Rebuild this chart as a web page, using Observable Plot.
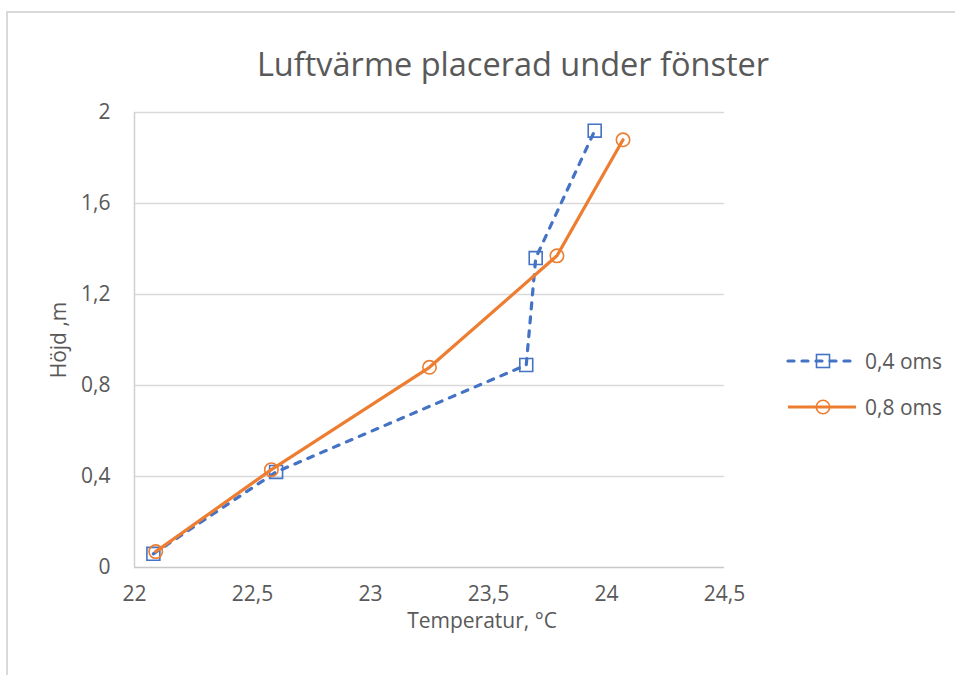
<!DOCTYPE html>
<html>
<head>
<meta charset="utf-8">
<script src="https://cdn.jsdelivr.net/npm/d3@7"></script>
<script src="https://cdn.jsdelivr.net/npm/@observablehq/plot@0.6"></script>
<style>
  html, body { margin: 0; padding: 0; background: #fff; }
  #wrap { position: relative; width: 955px; height: 675px; overflow: hidden; font-family: "Open Sans", sans-serif; color: #595959; }
  #frame { position: absolute; left: 6px; top: 11px; width: 1200px; height: 1000px; border-left: 2px solid #d9d9d9; border-top: 2px solid #d9d9d9; }
  #chart { position: absolute; left: 0; top: 0; }
  .t { position: absolute; white-space: nowrap; }
  #title { left: 513px; top: 44px; transform: translateX(-50%) scaleX(0.985); font-size: 33px; line-height: 40px; }
  #xlab { left: 482px; top: 610px; transform: translateX(-50%); font-size: 21px; line-height: 21px; }
  #ylab { left: 58px; top: 340px; transform: translate(-50%, -50%) rotate(-90deg); font-size: 21px; line-height: 21px; }
  #legend { position: absolute; left: 780px; top: 338px; }
  .lg { display: flex; align-items: center; height: 46px; font-size: 21px; }
  .lg svg { margin-right: 5px; }
</style>
</head>
<body>
<div id="wrap">
  <div id="frame"></div>
  <div id="chart"></div>
  <div class="t" id="title">Luftvärme placerad under fönster</div>
  <div class="t" id="xlab">Temperatur, °C</div>
  <div class="t" id="ylab">Höjd ,m</div>
  <div id="legend"></div>
</div>
<script>
const seriesNames = ["0,4 oms", "0,8 oms"];
const colors = ["#4472C4", "#ED7D31"];
const temp04 = [22.08, 22.60, 23.66, 23.70, 23.95];
const hojd04 = [0.06, 0.42, 0.89, 1.36, 1.92];
const temp08 = [22.09, 22.58, 23.25, 23.79, 24.07];
const hojd08 = [0.07, 0.43, 0.88, 1.37, 1.88];
const xTicks = [22, 22.5, 23, 23.5, 24, 24.5];
const yTicks = [0, 0.4, 0.8, 1.2, 1.6, 2];

const s04 = temp04.map((t, i) => ({t, h: hojd04[i]}));
const s08 = temp08.map((t, i) => ({t, h: hojd08[i]}));
const fmt = d => String(d).replace(".", ",");

const chart = Plot.plot({
  width: 955,
  height: 675,
  marginLeft: 134,
  marginRight: 231,
  marginTop: 112,
  marginBottom: 108,
  style: { fontFamily: "Open Sans, sans-serif", fontSize: "21px", color: "#595959", background: "transparent", overflow: "visible" },
  x: { domain: [22, 24.5], ticks: xTicks, tickFormat: fmt, tickSize: 0, tickPadding: 19, label: null },
  y: { domain: [0, 2], ticks: yTicks, tickFormat: fmt, tickSize: 0, tickPadding: 24, label: null },
  marks: [
    Plot.ruleY(yTicks.filter(d => d > 0), { stroke: "#d9d9d9", strokeWidth: 1.5 }),
    Plot.ruleY([0], { stroke: "#c8c8c8", strokeWidth: 1.5 }),
    Plot.ruleX([22], { stroke: "#d0d0d0", strokeWidth: 1.5 }),
    Plot.line(s04, { x: "t", y: "h", stroke: colors[0], strokeWidth: 3.2, strokeDasharray: "6,8", strokeLinecap: "round" }),
    Plot.dot(s04, { x: "t", y: "h", symbol: "square", r: 7.3, stroke: colors[0], strokeWidth: 1.6, fill: "none" }),
    Plot.line(s08, { x: "t", y: "h", stroke: colors[1], strokeWidth: 3.2 }),
    Plot.dot(s08, { x: "t", y: "h", symbol: "circle", r: 6.7, stroke: colors[1], strokeWidth: 1.6, fill: "none" })
  ]
});
document.getElementById("chart").appendChild(chart);

// legend
const legend = document.getElementById("legend");
seriesNames.forEach((name, i) => {
  const row = document.createElement("div");
  row.className = "lg";
  const svg = d3.create("svg").attr("width", 80).attr("height", 20);
  svg.append("line").attr("x1", 8).attr("x2", 76).attr("y1", 10).attr("y2", 10)
    .attr("stroke", colors[i]).attr("stroke-width", 3.2)
    .attr("stroke-linecap", i === 0 ? "round" : "butt")
    .attr("stroke-dasharray", i === 0 ? "6,8" : null);
  if (i === 0) {
    svg.append("rect").attr("x", 43 - 6.5).attr("y", 3.5).attr("width", 13).attr("height", 13)
      .attr("fill", "none").attr("stroke", colors[i]).attr("stroke-width", 1.6);
  } else {
    svg.append("circle").attr("cx", 43).attr("cy", 10).attr("r", 6.7)
      .attr("fill", "none").attr("stroke", colors[i]).attr("stroke-width", 1.6);
  }
  row.appendChild(svg.node());
  const span = document.createElement("span");
  span.textContent = name;
  row.appendChild(span);
  legend.appendChild(row);
});
</script>
</body>
</html>
